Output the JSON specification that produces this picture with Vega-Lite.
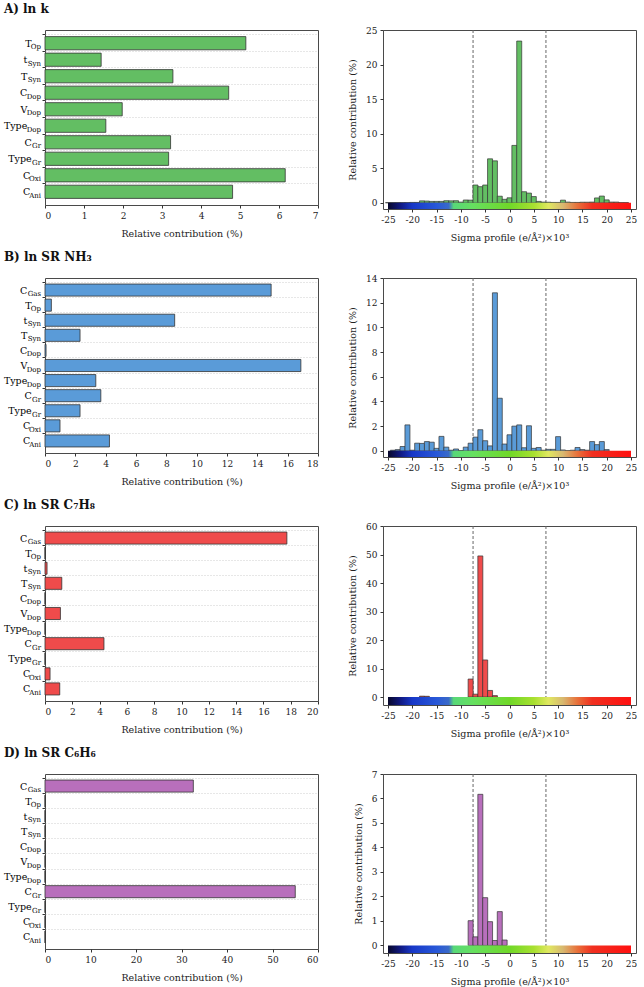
{
  "$schema": "https://vega.github.io/schema/vega-lite/v6.json",
  "padding": {"left": 3, "top": 2, "right": 4, "bottom": 4},
  "config": {
    "font": "DejaVu Serif",
    "view": {"stroke": "#4a4a4a", "strokeWidth": 1},
    "axis": {"labelFontSize": 9, "titleFontSize": 9.5, "titleFontWeight": "normal", "labelColor": "#222", "titleColor": "#222", "domain": false, "tickColor": "#333", "tickSize": 3, "labelPadding": 3, "titlePadding": 8, "grid": false, "labelOverlap": false, "labelExpr": "replace(datum.label, '−', '-')"},
    "title": {"fontSize": 12, "fontWeight": "bold", "anchor": "start", "frame": "bounds", "color": "#111", "offset": 14}
  },
  "datasets": {
    "barA": [
      {"cat": "TOp", "main": "T", "sub": "Op", "v": 5.15},
      {"cat": "tSyn", "main": "t", "sub": "Syn", "v": 1.44},
      {"cat": "TSyn", "main": "T", "sub": "Syn", "v": 3.28},
      {"cat": "CDop", "main": "C", "sub": "Dop", "v": 4.71},
      {"cat": "VDop", "main": "V", "sub": "Dop", "v": 1.98},
      {"cat": "TypeDop", "main": "Type", "sub": "Dop", "v": 1.56},
      {"cat": "CGr", "main": "C", "sub": "Gr", "v": 3.22},
      {"cat": "TypeGr", "main": "Type", "sub": "Gr", "v": 3.17},
      {"cat": "COxi", "main": "C", "sub": "Oxi", "v": 6.16},
      {"cat": "CAni", "main": "C", "sub": "Ani", "v": 4.81}
    ],
    "barB": [
      {"cat": "CGas", "main": "C", "sub": "Gas", "v": 14.91},
      {"cat": "TOp", "main": "T", "sub": "Op", "v": 0.42},
      {"cat": "tSyn", "main": "t", "sub": "Syn", "v": 8.55},
      {"cat": "TSyn", "main": "T", "sub": "Syn", "v": 2.31},
      {"cat": "CDop", "main": "C", "sub": "Dop", "v": 0.07},
      {"cat": "VDop", "main": "V", "sub": "Dop", "v": 16.87},
      {"cat": "TypeDop", "main": "Type", "sub": "Dop", "v": 3.35},
      {"cat": "CGr", "main": "C", "sub": "Gr", "v": 3.68},
      {"cat": "TypeGr", "main": "Type", "sub": "Gr", "v": 2.31},
      {"cat": "COxi", "main": "C", "sub": "Oxi", "v": 0.99},
      {"cat": "CAni", "main": "C", "sub": "Ani", "v": 4.25}
    ],
    "barC": [
      {"cat": "CGas", "main": "C", "sub": "Gas", "v": 17.72},
      {"cat": "TOp", "main": "T", "sub": "Op", "v": 0},
      {"cat": "tSyn", "main": "t", "sub": "Syn", "v": 0.15},
      {"cat": "TSyn", "main": "T", "sub": "Syn", "v": 1.23},
      {"cat": "CDop", "main": "C", "sub": "Dop", "v": 0},
      {"cat": "VDop", "main": "V", "sub": "Dop", "v": 1.13},
      {"cat": "TypeDop", "main": "Type", "sub": "Dop", "v": 0},
      {"cat": "CGr", "main": "C", "sub": "Gr", "v": 4.32},
      {"cat": "TypeGr", "main": "Type", "sub": "Gr", "v": 0},
      {"cat": "COxi", "main": "C", "sub": "Oxi", "v": 0.37},
      {"cat": "CAni", "main": "C", "sub": "Ani", "v": 1.08}
    ],
    "barD": [
      {"cat": "CGas", "main": "C", "sub": "Gas", "v": 32.6},
      {"cat": "TOp", "main": "T", "sub": "Op", "v": 0},
      {"cat": "tSyn", "main": "t", "sub": "Syn", "v": 0},
      {"cat": "TSyn", "main": "T", "sub": "Syn", "v": 0},
      {"cat": "CDop", "main": "C", "sub": "Dop", "v": 0},
      {"cat": "VDop", "main": "V", "sub": "Dop", "v": 0},
      {"cat": "TypeDop", "main": "Type", "sub": "Dop", "v": 0},
      {"cat": "CGr", "main": "C", "sub": "Gr", "v": 55.0},
      {"cat": "TypeGr", "main": "Type", "sub": "Gr", "v": 0},
      {"cat": "COxi", "main": "C", "sub": "Oxi", "v": 0},
      {"cat": "CAni", "main": "C", "sub": "Ani", "v": 0}
    ],
    "hA": [
      {"s": -25, "v": 0.02}, {"s": -24, "v": 0.03}, {"s": -23, "v": 0.03}, {"s": -22, "v": 0.03}, {"s": -21, "v": 0.03},
      {"s": -20, "v": 0.05}, {"s": -19, "v": 0.05}, {"s": -18, "v": 0.28}, {"s": -17, "v": 0.25}, {"s": -16, "v": 0.2},
      {"s": -15, "v": 0.2}, {"s": -14, "v": 0.2}, {"s": -13, "v": 0.3}, {"s": -12, "v": 0.28}, {"s": -11, "v": 0.3},
      {"s": -10, "v": 0.1}, {"s": -9, "v": 0.4}, {"s": -8, "v": 0.38}, {"s": -7, "v": 2.57}, {"s": -6, "v": 2.33},
      {"s": -5, "v": 2.57}, {"s": -4, "v": 6.36}, {"s": -3, "v": 6.07}, {"s": -2, "v": 0.95}, {"s": -1, "v": 0.5},
      {"s": 0, "v": 0.72}, {"s": 1, "v": 8.3}, {"s": 2, "v": 23.4}, {"s": 3, "v": 1.6}, {"s": 4, "v": 1.4},
      {"s": 5, "v": 0.9}, {"s": 6, "v": 0.2}, {"s": 7, "v": 0.1}, {"s": 8, "v": 0.08}, {"s": 9, "v": 0.05},
      {"s": 10, "v": 0.05}, {"s": 11, "v": 0.38}, {"s": 12, "v": 0.1}, {"s": 13, "v": 0.05}, {"s": 14, "v": 0.05},
      {"s": 15, "v": 0.08}, {"s": 16, "v": 0.08}, {"s": 17, "v": 0.1}, {"s": 18, "v": 0.7}, {"s": 19, "v": 0.97},
      {"s": 20, "v": 0.42}, {"s": 21, "v": 0.1}, {"s": 22, "v": 0.1}, {"s": 23, "v": 0.02}, {"s": 24, "v": 0.02}
    ],
    "hB": [
      {"s": -24, "v": 0.05}, {"s": -23, "v": 0.1}, {"s": -22, "v": 0.35}, {"s": -21, "v": 2.1}, {"s": -20, "v": 0.05},
      {"s": -19, "v": 0.62}, {"s": -18, "v": 0.6}, {"s": -17, "v": 0.75}, {"s": -16, "v": 0.7}, {"s": -15, "v": 0.2},
      {"s": -14, "v": 1.17}, {"s": -13, "v": 0.3}, {"s": -12, "v": 0.05}, {"s": -11, "v": 0.15}, {"s": -10, "v": 0.02},
      {"s": -9, "v": 0.3}, {"s": -8, "v": 0.62}, {"s": -7, "v": 1.11}, {"s": -6, "v": 1.71}, {"s": -5, "v": 0.82},
      {"s": -4, "v": 0.4}, {"s": -3, "v": 12.8}, {"s": -2, "v": 4.26}, {"s": -1, "v": 0.55}, {"s": 0, "v": 1.3},
      {"s": 1, "v": 2.0}, {"s": 2, "v": 2.1}, {"s": 3, "v": 0.25}, {"s": 4, "v": 2.03}, {"s": 5, "v": 0.2},
      {"s": 6, "v": 0.27}, {"s": 7, "v": 0.05}, {"s": 8, "v": 0.12}, {"s": 9, "v": 0.12}, {"s": 10, "v": 1.15},
      {"s": 11, "v": 0.07}, {"s": 12, "v": 0.02}, {"s": 13, "v": 0.05}, {"s": 14, "v": 0.27}, {"s": 15, "v": 0.1},
      {"s": 16, "v": 0.05}, {"s": 17, "v": 0.75}, {"s": 18, "v": 0.5}, {"s": 19, "v": 0.75}, {"s": 20, "v": 0.1}
    ],
    "hC": [
      {"s": -18, "v": 0.3}, {"s": -17, "v": 0.25}, {"s": -8, "v": 6.3}, {"s": -7, "v": 1.0},
      {"s": -6, "v": 49.5}, {"s": -5, "v": 13.0}, {"s": -4, "v": 2.3}, {"s": -3, "v": 0.5}
    ],
    "hD": [
      {"s": -8, "v": 1.01}, {"s": -7, "v": 0.35}, {"s": -6, "v": 6.17}, {"s": -5, "v": 1.95},
      {"s": -4, "v": 0.97}, {"s": -3, "v": 0.2}, {"s": -2, "v": 1.38}, {"s": -1, "v": 0.22}
    ],
    "vlines": [{"s": -7.5}, {"s": 7.5}]
  },
  "columns": 2,
  "bounds": "flush",
  "spacing": {"row": 69, "column": 65},
  "concat": [
    {
      "title": {"text": "A) ln k"},
      "width": 273, "height": 175,
      "data": {"name": "barA"},
      "encoding": {"y": {"field": "cat", "type": "nominal", "sort": null, "scale": {"paddingInner": 0.2, "paddingOuter": 0.4}, "axis": {"title": null, "labels": false, "bandPosition": -0.125, "grid": true, "gridDash": [1, 2], "gridColor": "#cfcfcf"}}},
      "layer": [
        {"mark": {"type": "bar", "fill": "#63BE63", "stroke": "#333", "strokeWidth": 0.8}, "encoding": {"x": {"field": "v", "type": "quantitative", "scale": {"domain": [0, 7], "nice": false}, "axis": {"title": "Relative contribution (%)", "values": [0, 1, 2, 3, 4, 5, 6, 7]}}}},
        {"mark": {"type": "text", "align": "right", "baseline": "alphabetic", "fontSize": 9.5, "dy": 3.5, "dx": {"expr": "-4.5-(datum.sub=='Oxi'||datum.sub=='Ani' ? 10.3 : 4.4*length(datum.sub))"}}, "encoding": {"x": {"datum": 0, "scale": {"domain": [0, 7], "nice": false}, "axis": {"title": "Relative contribution (%)", "values": [0, 1, 2, 3, 4, 5, 6, 7]}}, "text": {"field": "main"}}},
        {"mark": {"type": "text", "align": "right", "baseline": "alphabetic", "fontSize": 7, "dy": 6, "dx": -4}, "encoding": {"x": {"datum": 0, "scale": {"domain": [0, 7], "nice": false}, "axis": {"title": "Relative contribution (%)", "values": [0, 1, 2, 3, 4, 5, 6, 7]}}, "text": {"field": "sub"}}}
      ]
    },
    {
      "width": 253, "height": 179,
      "layer": [
        {"data": {"name": "vlines"}, "mark": {"type": "rule", "strokeDash": [3, 2], "color": "#666", "strokeWidth": 1},
         "encoding": {"x": {"field": "s", "type": "quantitative", "scale": {"domain": [-25, 25], "nice": false}, "axis": {"title": "Sigma profile (e/Å²)×10³", "values": [-25, -20, -15, -10, -5, 0, 5, 10, 15, 20, 25]}}}},
        {"data": {"name": "hA"}, "mark": {"type": "bar", "width": 5, "fill": "#63BE63", "stroke": "#333", "strokeWidth": 0.7},
         "encoding": {"x": {"field": "s", "type": "quantitative", "scale": {"domain": [-25, 25], "nice": false}, "axis": {"title": "Sigma profile (e/Å²)×10³", "values": [-25, -20, -15, -10, -5, 0, 5, 10, 15, 20, 25]}},
                      "y": {"field": "v", "type": "quantitative", "scale": {"domain": [-0.9, 25], "nice": false, "zero": false}, "axis": {"title": "Relative contribution (%)", "values": [0, 5, 10, 15, 20, 25]}},
                      "y2": {"datum": 0}}},
        {"data": {"values": [{}]}, "mark": {"type": "rect", "fill": {"gradient": "linear", "x1": 0, "y1": 0, "x2": 1, "y2": 0, "stops": [
            {"offset": 0, "color": "#08082a"}, {"offset": 0.05, "color": "#101880"}, {"offset": 0.1, "color": "#1838c8"}, {"offset": 0.2, "color": "#2858d8"},
            {"offset": 0.25, "color": "#3a6ac8"}, {"offset": 0.27, "color": "#58d878"}, {"offset": 0.35, "color": "#66e060"}, {"offset": 0.5, "color": "#70d828"},
            {"offset": 0.6, "color": "#a8e030"}, {"offset": 0.66, "color": "#e0e860"}, {"offset": 0.72, "color": "#d8b870"}, {"offset": 0.78, "color": "#e8703a"},
            {"offset": 0.84, "color": "#f03020"}, {"offset": 1, "color": "#ff1010"}]}},
         "encoding": {"x": {"datum": -25, "scale": {"domain": [-25, 25], "nice": false}, "axis": {"title": "Sigma profile (e/Å²)×10³", "values": [-25, -20, -15, -10, -5, 0, 5, 10, 15, 20, 25]}}, "x2": {"datum": 25},
                      "y": {"datum": 0, "scale": {"domain": [-0.9, 25], "nice": false, "zero": false}, "axis": {"title": "Relative contribution (%)", "values": [0, 5, 10, 15, 20, 25]}}, "y2": {"datum": -0.9}}}
      ]
    },
    {
      "title": {"text": "B) ln SR NH₃"},
      "width": 273, "height": 175,
      "data": {"name": "barB"},
      "encoding": {"y": {"field": "cat", "type": "nominal", "sort": null, "scale": {"paddingInner": 0.2, "paddingOuter": 0.4}, "axis": {"title": null, "labels": false, "bandPosition": -0.125, "grid": true, "gridDash": [1, 2], "gridColor": "#cfcfcf"}}},
      "layer": [
        {"mark": {"type": "bar", "fill": "#5A9BD8", "stroke": "#333", "strokeWidth": 0.8}, "encoding": {"x": {"field": "v", "type": "quantitative", "scale": {"domain": [0, 18], "nice": false}, "axis": {"title": "Relative contribution (%)", "values": [0, 2, 4, 6, 8, 10, 12, 14, 16, 18]}}}},
        {"mark": {"type": "text", "align": "right", "baseline": "alphabetic", "fontSize": 9.5, "dy": 3.5, "dx": {"expr": "-4.5-(datum.sub=='Oxi'||datum.sub=='Ani' ? 10.3 : 4.4*length(datum.sub))"}}, "encoding": {"x": {"datum": 0, "scale": {"domain": [0, 18], "nice": false}, "axis": {"title": "Relative contribution (%)", "values": [0, 2, 4, 6, 8, 10, 12, 14, 16, 18]}}, "text": {"field": "main"}}},
        {"mark": {"type": "text", "align": "right", "baseline": "alphabetic", "fontSize": 7, "dy": 6, "dx": -4}, "encoding": {"x": {"datum": 0, "scale": {"domain": [0, 18], "nice": false}, "axis": {"title": "Relative contribution (%)", "values": [0, 2, 4, 6, 8, 10, 12, 14, 16, 18]}}, "text": {"field": "sub"}}}
      ]
    },
    {
      "width": 253, "height": 179,
      "layer": [
        {"data": {"name": "vlines"}, "mark": {"type": "rule", "strokeDash": [3, 2], "color": "#666", "strokeWidth": 1},
         "encoding": {"x": {"field": "s", "type": "quantitative", "scale": {"domain": [-25, 25], "nice": false}, "axis": {"title": "Sigma profile (e/Å²)×10³", "values": [-25, -20, -15, -10, -5, 0, 5, 10, 15, 20, 25]}}}},
        {"data": {"name": "hB"}, "mark": {"type": "bar", "width": 5, "fill": "#5A9BD8", "stroke": "#333", "strokeWidth": 0.7},
         "encoding": {"x": {"field": "s", "type": "quantitative", "scale": {"domain": [-25, 25], "nice": false}, "axis": {"title": "Sigma profile (e/Å²)×10³", "values": [-25, -20, -15, -10, -5, 0, 5, 10, 15, 20, 25]}},
                      "y": {"field": "v", "type": "quantitative", "scale": {"domain": [-0.5, 14], "nice": false, "zero": false}, "axis": {"title": "Relative contribution (%)", "values": [0, 2, 4, 6, 8, 10, 12, 14]}},
                      "y2": {"datum": 0}}},
        {"data": {"values": [{}]}, "mark": {"type": "rect", "fill": {"gradient": "linear", "x1": 0, "y1": 0, "x2": 1, "y2": 0, "stops": [
            {"offset": 0, "color": "#08082a"}, {"offset": 0.05, "color": "#101880"}, {"offset": 0.1, "color": "#1838c8"}, {"offset": 0.2, "color": "#2858d8"},
            {"offset": 0.25, "color": "#3a6ac8"}, {"offset": 0.27, "color": "#58d878"}, {"offset": 0.35, "color": "#66e060"}, {"offset": 0.5, "color": "#70d828"},
            {"offset": 0.6, "color": "#a8e030"}, {"offset": 0.66, "color": "#e0e860"}, {"offset": 0.72, "color": "#d8b870"}, {"offset": 0.78, "color": "#e8703a"},
            {"offset": 0.84, "color": "#f03020"}, {"offset": 1, "color": "#ff1010"}]}},
         "encoding": {"x": {"datum": -25, "scale": {"domain": [-25, 25], "nice": false}, "axis": {"title": "Sigma profile (e/Å²)×10³", "values": [-25, -20, -15, -10, -5, 0, 5, 10, 15, 20, 25]}}, "x2": {"datum": 25},
                      "y": {"datum": 0, "scale": {"domain": [-0.5, 14], "nice": false, "zero": false}, "axis": {"title": "Relative contribution (%)", "values": [0, 2, 4, 6, 8, 10, 12, 14]}}, "y2": {"datum": -0.5}}}
      ]
    },
    {
      "title": {"text": "C) ln SR C₇H₈"},
      "width": 273, "height": 175,
      "data": {"name": "barC"},
      "encoding": {"y": {"field": "cat", "type": "nominal", "sort": null, "scale": {"paddingInner": 0.2, "paddingOuter": 0.4}, "axis": {"title": null, "labels": false, "bandPosition": -0.125, "grid": true, "gridDash": [1, 2], "gridColor": "#cfcfcf"}}},
      "layer": [
        {"mark": {"type": "bar", "fill": "#EF4B4B", "stroke": "#333", "strokeWidth": 0.8}, "encoding": {"x": {"field": "v", "type": "quantitative", "scale": {"domain": [0, 20], "nice": false}, "axis": {"title": "Relative contribution (%)", "values": [0, 2, 4, 6, 8, 10, 12, 14, 16, 18, 20]}}}},
        {"mark": {"type": "text", "align": "right", "baseline": "alphabetic", "fontSize": 9.5, "dy": 3.5, "dx": {"expr": "-4.5-(datum.sub=='Oxi'||datum.sub=='Ani' ? 10.3 : 4.4*length(datum.sub))"}}, "encoding": {"x": {"datum": 0, "scale": {"domain": [0, 20], "nice": false}, "axis": {"title": "Relative contribution (%)", "values": [0, 2, 4, 6, 8, 10, 12, 14, 16, 18, 20]}}, "text": {"field": "main"}}},
        {"mark": {"type": "text", "align": "right", "baseline": "alphabetic", "fontSize": 7, "dy": 6, "dx": -4}, "encoding": {"x": {"datum": 0, "scale": {"domain": [0, 20], "nice": false}, "axis": {"title": "Relative contribution (%)", "values": [0, 2, 4, 6, 8, 10, 12, 14, 16, 18, 20]}}, "text": {"field": "sub"}}}
      ]
    },
    {
      "width": 253, "height": 179,
      "layer": [
        {"data": {"name": "vlines"}, "mark": {"type": "rule", "strokeDash": [3, 2], "color": "#666", "strokeWidth": 1},
         "encoding": {"x": {"field": "s", "type": "quantitative", "scale": {"domain": [-25, 25], "nice": false}, "axis": {"title": "Sigma profile (e/Å²)×10³", "values": [-25, -20, -15, -10, -5, 0, 5, 10, 15, 20, 25]}}}},
        {"data": {"name": "hC"}, "mark": {"type": "bar", "width": 5, "fill": "#EF4B4B", "stroke": "#333", "strokeWidth": 0.7},
         "encoding": {"x": {"field": "s", "type": "quantitative", "scale": {"domain": [-25, 25], "nice": false}, "axis": {"title": "Sigma profile (e/Å²)×10³", "values": [-25, -20, -15, -10, -5, 0, 5, 10, 15, 20, 25]}},
                      "y": {"field": "v", "type": "quantitative", "scale": {"domain": [-2.8, 60], "nice": false, "zero": false}, "axis": {"title": "Relative contribution (%)", "values": [0, 10, 20, 30, 40, 50, 60]}},
                      "y2": {"datum": 0}}},
        {"data": {"values": [{}]}, "mark": {"type": "rect", "fill": {"gradient": "linear", "x1": 0, "y1": 0, "x2": 1, "y2": 0, "stops": [
            {"offset": 0, "color": "#08082a"}, {"offset": 0.05, "color": "#101880"}, {"offset": 0.1, "color": "#1838c8"}, {"offset": 0.2, "color": "#2858d8"},
            {"offset": 0.25, "color": "#3a6ac8"}, {"offset": 0.27, "color": "#58d878"}, {"offset": 0.35, "color": "#66e060"}, {"offset": 0.5, "color": "#70d828"},
            {"offset": 0.6, "color": "#a8e030"}, {"offset": 0.66, "color": "#e0e860"}, {"offset": 0.72, "color": "#d8b870"}, {"offset": 0.78, "color": "#e8703a"},
            {"offset": 0.84, "color": "#f03020"}, {"offset": 1, "color": "#ff1010"}]}},
         "encoding": {"x": {"datum": -25, "scale": {"domain": [-25, 25], "nice": false}, "axis": {"title": "Sigma profile (e/Å²)×10³", "values": [-25, -20, -15, -10, -5, 0, 5, 10, 15, 20, 25]}}, "x2": {"datum": 25},
                      "y": {"datum": 0, "scale": {"domain": [-2.8, 60], "nice": false, "zero": false}, "axis": {"title": "Relative contribution (%)", "values": [0, 10, 20, 30, 40, 50, 60]}}, "y2": {"datum": -2.8}}}
      ]
    },
    {
      "title": {"text": "D) ln SR C₆H₆"},
      "width": 273, "height": 175,
      "data": {"name": "barD"},
      "encoding": {"y": {"field": "cat", "type": "nominal", "sort": null, "scale": {"paddingInner": 0.2, "paddingOuter": 0.4}, "axis": {"title": null, "labels": false, "bandPosition": -0.125, "grid": true, "gridDash": [1, 2], "gridColor": "#cfcfcf"}}},
      "layer": [
        {"mark": {"type": "bar", "fill": "#B86FBC", "stroke": "#333", "strokeWidth": 0.8}, "encoding": {"x": {"field": "v", "type": "quantitative", "scale": {"domain": [0, 60], "nice": false}, "axis": {"title": "Relative contribution (%)", "values": [0, 10, 20, 30, 40, 50, 60]}}}},
        {"mark": {"type": "text", "align": "right", "baseline": "alphabetic", "fontSize": 9.5, "dy": 3.5, "dx": {"expr": "-4.5-(datum.sub=='Oxi'||datum.sub=='Ani' ? 10.3 : 4.4*length(datum.sub))"}}, "encoding": {"x": {"datum": 0, "scale": {"domain": [0, 60], "nice": false}, "axis": {"title": "Relative contribution (%)", "values": [0, 10, 20, 30, 40, 50, 60]}}, "text": {"field": "main"}}},
        {"mark": {"type": "text", "align": "right", "baseline": "alphabetic", "fontSize": 7, "dy": 6, "dx": -4}, "encoding": {"x": {"datum": 0, "scale": {"domain": [0, 60], "nice": false}, "axis": {"title": "Relative contribution (%)", "values": [0, 10, 20, 30, 40, 50, 60]}}, "text": {"field": "sub"}}}
      ]
    },
    {
      "width": 253, "height": 179,
      "layer": [
        {"data": {"name": "vlines"}, "mark": {"type": "rule", "strokeDash": [3, 2], "color": "#666", "strokeWidth": 1},
         "encoding": {"x": {"field": "s", "type": "quantitative", "scale": {"domain": [-25, 25], "nice": false}, "axis": {"title": "Sigma profile (e/Å²)×10³", "values": [-25, -20, -15, -10, -5, 0, 5, 10, 15, 20, 25]}}}},
        {"data": {"name": "hD"}, "mark": {"type": "bar", "width": 5, "fill": "#B86FBC", "stroke": "#333", "strokeWidth": 0.7},
         "encoding": {"x": {"field": "s", "type": "quantitative", "scale": {"domain": [-25, 25], "nice": false}, "axis": {"title": "Sigma profile (e/Å²)×10³", "values": [-25, -20, -15, -10, -5, 0, 5, 10, 15, 20, 25]}},
                      "y": {"field": "v", "type": "quantitative", "scale": {"domain": [-0.31, 7], "nice": false, "zero": false}, "axis": {"title": "Relative contribution (%)", "values": [0, 1, 2, 3, 4, 5, 6, 7]}},
                      "y2": {"datum": 0}}},
        {"data": {"values": [{}]}, "mark": {"type": "rect", "fill": {"gradient": "linear", "x1": 0, "y1": 0, "x2": 1, "y2": 0, "stops": [
            {"offset": 0, "color": "#08082a"}, {"offset": 0.05, "color": "#101880"}, {"offset": 0.1, "color": "#1838c8"}, {"offset": 0.2, "color": "#2858d8"},
            {"offset": 0.25, "color": "#3a6ac8"}, {"offset": 0.27, "color": "#58d878"}, {"offset": 0.35, "color": "#66e060"}, {"offset": 0.5, "color": "#70d828"},
            {"offset": 0.6, "color": "#a8e030"}, {"offset": 0.66, "color": "#e0e860"}, {"offset": 0.72, "color": "#d8b870"}, {"offset": 0.78, "color": "#e8703a"},
            {"offset": 0.84, "color": "#f03020"}, {"offset": 1, "color": "#ff1010"}]}},
         "encoding": {"x": {"datum": -25, "scale": {"domain": [-25, 25], "nice": false}, "axis": {"title": "Sigma profile (e/Å²)×10³", "values": [-25, -20, -15, -10, -5, 0, 5, 10, 15, 20, 25]}}, "x2": {"datum": 25},
                      "y": {"datum": 0, "scale": {"domain": [-0.31, 7], "nice": false, "zero": false}, "axis": {"title": "Relative contribution (%)", "values": [0, 1, 2, 3, 4, 5, 6, 7]}}, "y2": {"datum": -0.31}}}
      ]
    }
  ]
}
